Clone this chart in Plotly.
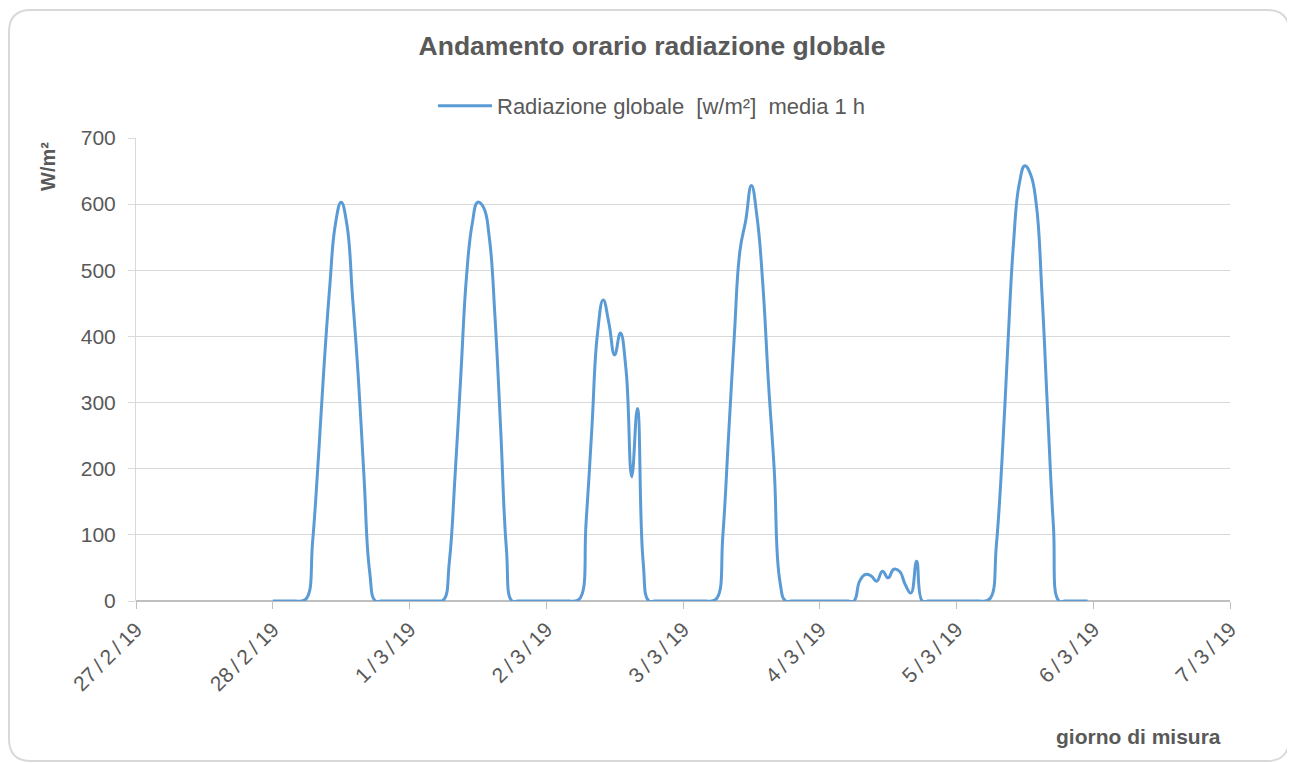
import pandas as pd
import plotly.graph_objects as go

# Hourly global radiation [W/m²], 1-hour mean, one list per day (00:00 .. 23:00)
day_28_02 = [0, 0, 0, 0, 0, 0, 5, 90, 215, 355, 475, 570, 603, 570, 460, 340, 190, 45, 0, 0, 0, 0, 0, 0]
day_01_03 = [0, 0, 0, 0, 0, 0, 2, 60, 190, 340, 490, 570, 603, 595, 550, 430, 260, 80, 0, 0, 0, 0, 0, 0]
day_02_03 = [0, 0, 0, 0, 0, 0, 5, 120, 260, 405, 455, 420, 372, 405, 350, 188, 291, 60, 0, 0, 0, 0, 0, 0]
day_03_03 = [0, 0, 0, 0, 0, 0, 5, 100, 250, 400, 530, 575, 628, 580, 480, 330, 200, 30, 0, 0, 0, 0, 0, 0]
day_04_03 = [0, 0, 0, 0, 0, 0, 0, 30, 40, 38, 30, 45, 35, 48, 45, 25, 12, 60, 0, 0, 0, 0, 0, 0]
day_05_03 = [0, 0, 0, 0, 0, 0, 5, 85, 215, 385, 540, 630, 658, 645, 600, 465, 285, 115, 0, 0, 0, 0, 0, 0]

start_time = "2019-02-28 00:00"
series_name = "Radiazione globale  [w/m²]  media 1 h"
tick_dates = ["2019-02-27", "2019-02-28", "2019-03-01", "2019-03-02", "2019-03-03",
              "2019-03-04", "2019-03-05", "2019-03-06", "2019-03-07"]
tick_labels = ["27/2/19", "28/2/19", "1/3/19", "2/3/19", "3/3/19",
               "4/3/19", "5/3/19", "6/3/19", "7/3/19"]
y_ticks = [0, 100, 200, 300, 400, 500, 600, 700]

values = day_28_02 + day_01_03 + day_02_03 + day_03_03 + day_04_03 + day_05_03
times = pd.date_range(start_time, periods=len(values), freq="h")

OFF = 8  # page body margin
W, H = 1295 - OFF, 763 - OFF
L, T = 136 - OFF, 138 - OFF
R = W - (1230 - OFF)
B = H - (601 - OFF)
pw, ph = W - L - R, H - T - B


def px(x):
    return (x - OFF - L) / pw


def py(y):
    return (H - B - (y - OFF)) / ph


fig = go.Figure()
fig.add_trace(go.Scatter(
    x=times, y=values, mode="lines", name=series_name,
    line=dict(color="#5b9bd5", width=3, shape="spline", smoothing=1.3),
))

grey = "#595959"
font_family = "Liberation Sans, Arial, sans-serif"

# rounded outer frame
x0, x1, y0, y1, r = 9, 1289, 10, 761, 22
path = (
    f"M {px(x0 + r)},{py(y0)} L {px(x1 - r)},{py(y0)} "
    f"Q {px(x1)},{py(y0)} {px(x1)},{py(y0 + r)} "
    f"L {px(x1)},{py(y1 - r)} Q {px(x1)},{py(y1)} {px(x1 - r)},{py(y1)} "
    f"L {px(x0 + r)},{py(y1)} Q {px(x0)},{py(y1)} {px(x0)},{py(y1 - r)} "
    f"L {px(x0)},{py(y0 + r)} Q {px(x0)},{py(y0)} {px(x0 + r)},{py(y0)} Z"
)
fig.add_shape(type="path", path=path, xref="paper", yref="paper",
              line=dict(color="#d9d9d9", width=2), layer="below")

center_x = (652 - OFF) / W

fig.update_layout(
    width=W, height=H,
    margin=dict(l=L, r=R, t=T, b=B, autoexpand=False),
    paper_bgcolor="white", plot_bgcolor="white",
    font=dict(family=font_family, color=grey, size=16),
    title=dict(text="<b>Andamento orario radiazione globale</b>", x=center_x, xanchor="center",
               xref="container", y=1 - (46 - OFF) / H, yanchor="middle",
               font=dict(size=26.5, color=grey, family=font_family)),
    showlegend=True,
    legend=dict(orientation="h", x=px(652), xanchor="center", xref="paper",
                y=py(106), yanchor="middle", font=dict(size=22, color=grey),
                itemwidth=54, bgcolor="rgba(0,0,0,0)"),
    xaxis=dict(
        type="date", range=[tick_dates[0], tick_dates[-1]],
        tickvals=tick_dates,
        ticktext=[t.replace("/", "\u2009/\u2009") for t in tick_labels],
        tickangle=-45, showgrid=False, automargin=False,
        showline=False, zeroline=False, ticks="outside", ticklen=7,
        tickcolor="#bfbfbf", tickfont=dict(size=21, color=grey),
    ),
    yaxis=dict(
        range=[0, 700], tickvals=y_ticks, showgrid=True, gridcolor="#d9d9d9",
        gridwidth=1, zeroline=True, zerolinecolor="#bfbfbf", zerolinewidth=1.5,
        showline=True, linecolor="#d9d9d9", linewidth=1, automargin=False,
        ticks="outside", ticklen=7, tickcolor="#d9d9d9", ticklabelstandoff=8,
        tickfont=dict(size=21, color=grey),
    ),
    annotations=[
        dict(text="<b>W/m²</b>", xref="paper", yref="paper", x=px(48), y=py(167),
             textangle=-90, showarrow=False, font=dict(size=20, color=grey),
             xanchor="center", yanchor="middle"),
        dict(text="<b>giorno di misura</b>", xref="paper", yref="paper", x=px(1223), y=py(736),
             showarrow=False, font=dict(size=21, color=grey),
             xanchor="right", yanchor="middle"),
    ],
)

fig.write_html("out.html")
